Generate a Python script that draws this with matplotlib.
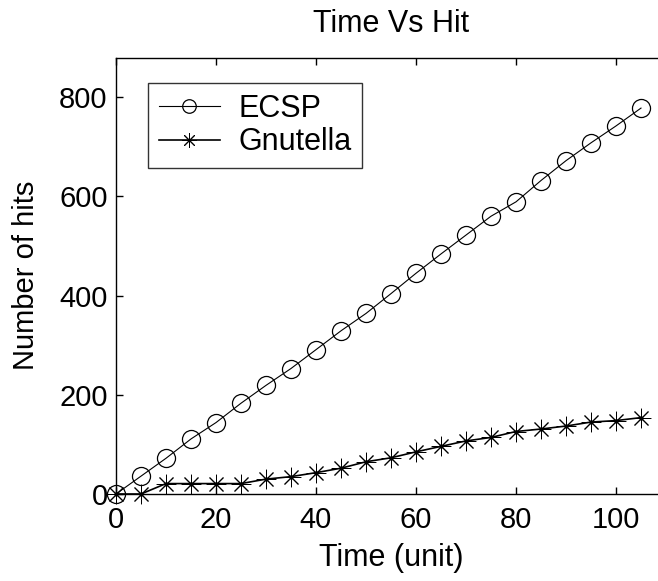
import numpy as np
import matplotlib.pyplot as plt

plt.rcParams['font.family'] = ['Liberation Sans', 'DejaVu Sans']

# data
time = np.arange(0, 106, 5)
ecsp = [0, 36, 72, 111, 144, 183, 219, 253, 291, 329, 364,
        404, 445, 484, 522, 560, 589, 632, 672, 708, 742, 778]
gnutella = [0, 0, 21, 21, 21, 21, 30, 35, 43, 52, 65,
            73, 85, 96, 107, 114, 126, 131, 137, 145, 148, 154]

fig = plt.figure(figsize=(6.58, 5.81), dpi=100)
ax = fig.add_axes([116 / 658, 1 - 494 / 581, 550 / 658, 436.5 / 581])

ax.plot(time, ecsp, color='black', lw=0.8, marker='o', ms=13,
        mfc='none', mec='black', mew=0.9, label='ECSP', clip_on=False)
ax.plot(time, gnutella, color='black', lw=1.2, marker=(8, 2, 0), ms=14,
        mec='black', mew=0.7, label='Gnutella', clip_on=False)
ax.plot(time, gnutella, ls='none', marker='.', ms=4, color='black',
        clip_on=False)

ax.set_xlim(0, 110)
ax.set_ylim(0, 880)
ax.set_xticks([0, 20, 40, 60, 80, 100])
ax.set_yticks([0, 200, 400, 600, 800])
ax.tick_params(direction='in', length=5, width=1, labelsize=21,
               top=True, right=True)
ax.tick_params(axis='x', pad=9)
ax.tick_params(axis='y', pad=6)
for s in ax.spines.values():
    s.set_linewidth(1.0)

ax.set_title('Time Vs Hit', fontsize=22, pad=18)
ax.set_xlabel('Time (unit)', fontsize=22, labelpad=6)
ax.set_ylabel('Number of hits', fontsize=21, labelpad=14)

leg = ax.legend(loc='upper left', bbox_to_anchor=(0.058, 0.9416), fontsize=22,
                frameon=True, fancybox=False, edgecolor='black',
                handlelength=2.0, borderpad=0.35, labelspacing=0.12,
                handletextpad=0.6, borderaxespad=0, markerscale=0.75)
leg.get_frame().set_linewidth(1.0)

fig.savefig('out.png', dpi=100)
